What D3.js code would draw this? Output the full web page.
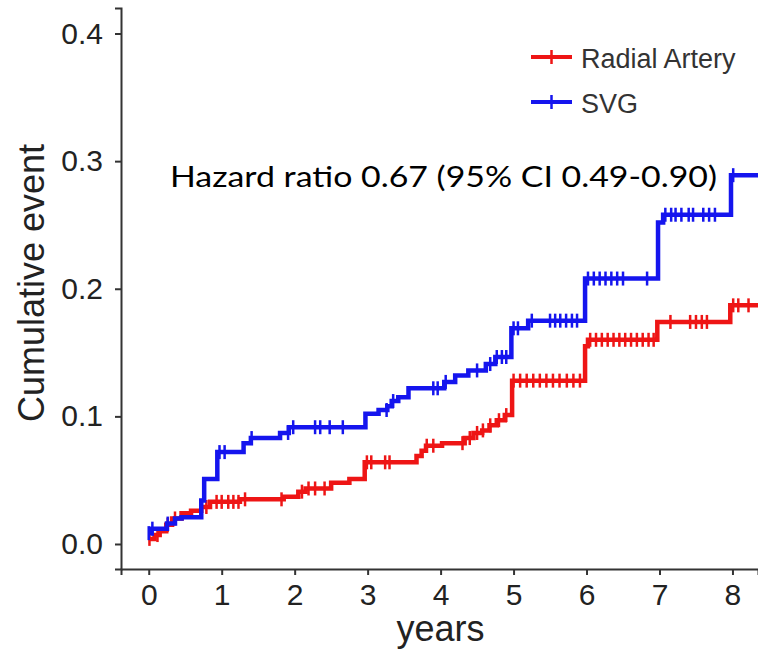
<!DOCTYPE html>
<html>
<head>
<meta charset="utf-8">
<script src="https://cdn.jsdelivr.net/npm/d3@7"></script>
<style>
  body { margin: 0; background: #fff; }
  svg { display: block; }
</style>
</head>
<body>
<div id="chart"></div>
<script>
// cumulative event step curves (time in years, cumulative incidence)
const raTime = [0, 0.08, 0.15, 0.24, 0.32, 0.45, 0.58, 0.72, 0.84, 1.25, 1.85, 2.05, 2.15, 2.5, 2.75, 2.96, 3.67, 3.74, 3.8, 4.02, 4.33, 4.45, 4.57, 4.67, 4.77, 4.88, 4.98, 5.98, 6.02, 6.97, 7.97, 8.4];
const raCum = [0.004, 0.007, 0.01, 0.015, 0.02, 0.024, 0.026, 0.029, 0.033, 0.035, 0.037, 0.041, 0.0435, 0.048, 0.051, 0.064, 0.069, 0.073, 0.077, 0.079, 0.083, 0.087, 0.089, 0.093, 0.097, 0.101, 0.128, 0.155, 0.16, 0.174, 0.187, 0.187];
const svgTime = [0, 0.04, 0.25, 0.36, 0.45, 0.72, 0.76, 0.94, 1.3, 1.4, 1.8, 1.92, 2.97, 3.15, 3.27, 3.33, 3.42, 3.56, 4.05, 4.2, 4.38, 4.62, 4.75, 4.97, 5.2, 5.98, 6.98, 7.05, 7.98, 8.4];
const svgCum = [0.0085, 0.012, 0.016, 0.02, 0.021, 0.034, 0.051, 0.072, 0.079, 0.083, 0.087, 0.0915, 0.102, 0.105, 0.108, 0.112, 0.115, 0.122, 0.127, 0.132, 0.136, 0.141, 0.1465, 0.169, 0.175, 0.208, 0.252, 0.258, 0.289, 0.289];

// censoring times
const raCensor = [0.01, 0.12, 0.26, 0.36, 0.79, 0.93, 1.0, 1.09, 1.16, 1.23, 1.32, 1.82, 2.1, 2.19, 2.28, 2.41, 2.99, 3.05, 3.24, 3.3, 3.81, 3.9, 4.3, 4.4, 4.5, 4.58, 4.68, 4.8, 4.9,
  5.0, 5.09, 5.18, 5.27, 5.36, 5.45, 5.54, 5.63, 5.73, 5.82, 5.91,
  6.05, 6.13, 6.21, 6.29, 6.37, 6.45, 6.53, 6.61, 6.69, 6.77, 6.85, 6.92,
  7.15, 7.42, 7.5, 7.58, 7.65, 8.01, 8.08, 8.22];
const svgCensor = [0.0, 0.05, 0.26, 0.97, 1.04, 1.41, 1.91, 1.98, 2.28, 2.35, 2.48, 2.66, 3.26, 3.35, 3.9, 3.96, 4.07, 4.5, 4.68, 4.77, 4.84, 4.9,
  5.0, 5.06, 5.25, 5.5, 5.57, 5.64, 5.72, 5.8, 5.87,
  6.02, 6.1, 6.18, 6.26, 6.34, 6.42, 6.5, 6.83,
  7.08, 7.16, 7.22, 7.3, 7.4, 7.46, 7.6, 7.68, 7.76, 8.01];

const groups = ['Radial Artery', 'SVG'];
const colors = ['#ee1515', '#1515ee'];
const xTicks = [0, 1, 2, 3, 4, 5, 6, 7, 8];
const yTicks = [0.0, 0.1, 0.2, 0.3, 0.4];
const hrText = 'Hazard ratio 0.67 (95% CI 0.49-0.90)';

const width = 758, height = 665;
const svg = d3.select('#chart').append('svg')
    .attr('width', width)
    .attr('height', height);
svg.append('rect').attr('width', width).attr('height', height).attr('fill', '#fff');

const x = d3.scaleLinear().domain([-0.38, 8.35]).range([121, 758]);
const y = d3.scaleLinear().domain([-0.0196, 0.42]).range([569, 8]);

// axes
const xAxis = svg.append('g')
    .attr('transform', 'translate(0,569)')
    .call(d3.axisBottom(x).tickValues(xTicks).tickSizeOuter(0).tickSize(6).tickPadding(9).tickFormat(d3.format('d')));
const yAxis = svg.append('g')
    .attr('transform', 'translate(121,0)')
    .call(d3.axisLeft(y).tickValues(yTicks).tickSizeOuter(0).tickSize(6).tickPadding(12).tickFormat(d3.format('.1f')));
[xAxis, yAxis].forEach(g => {
    g.select('.domain').attr('stroke', '#333').attr('stroke-width', 2);
    g.selectAll('.tick line').attr('stroke', '#333').attr('stroke-width', 2);
    g.selectAll('.tick text')
        .attr('fill', '#222')
        .style('font-family', '"Liberation Sans", Arial, sans-serif')
        .style('font-size', '30px');
});

svg.append('text')
    .attr('x', x(4))
    .attr('y', 641)
    .attr('text-anchor', 'middle')
    .attr('fill', '#222')
    .style('font-family', '"Liberation Sans", Arial, sans-serif')
    .style('font-size', '36px')
    .text('years');
svg.append('text')
    .attr('transform', `translate(44,${283}) rotate(-90)`)
    .attr('text-anchor', 'middle')
    .attr('fill', '#222')
    .style('font-family', '"Liberation Sans", Arial, sans-serif')
    .style('font-size', '36px')
    .text('Cumulative event');

// curves
const series = [
    { name: groups[0], time: raTime, cum: raCum, censor: raCensor, color: colors[0] },
    { name: groups[1], time: svgTime, cum: svgCum, censor: svgCensor, color: colors[1] }
];
const line = d3.line()
    .x(d => x(d[0]))
    .y(d => y(d[1]))
    .curve(d3.curveStepAfter);

svg.append('clipPath').attr('id', 'clip')
    .append('rect').attr('x', 121).attr('y', 0).attr('width', 640).attr('height', 569);

const plot = svg.append('g').attr('clip-path', 'url(#clip)');
series.forEach(s => {
    const pts = s.time.map((t, i) => [t, s.cum[i]]);
    plot.append('path')
        .datum(pts)
        .attr('d', line)
        .attr('fill', 'none')
        .attr('stroke', s.color)
        .attr('stroke-width', 4.5);
    const valueAt = t => s.cum[Math.max(0, d3.bisectRight(s.time, t) - 1)];
    plot.selectAll(null)
        .data(s.censor)
        .join('line')
        .attr('x1', d => x(d))
        .attr('x2', d => x(d))
        .attr('y1', d => y(valueAt(d)) - 7)
        .attr('y2', d => y(valueAt(d)) + 7)
        .attr('stroke', s.color)
        .attr('stroke-width', 2.5);
});

// legend
const legend = svg.append('g');
series.forEach((s, i) => {
    const ly = 57 + i * 45;
    legend.append('line')
        .attr('x1', 531).attr('x2', 572)
        .attr('y1', ly).attr('y2', ly)
        .attr('stroke', s.color).attr('stroke-width', 4);
    legend.append('line')
        .attr('x1', 551.5).attr('x2', 551.5)
        .attr('y1', ly - 7).attr('y2', ly + 7)
        .attr('stroke', s.color).attr('stroke-width', 2.5);
    legend.append('text')
        .attr('x', 581)
        .attr('y', ly + 11)
        .attr('fill', '#333')
        .style('font-family', '"Liberation Sans", Arial, sans-serif')
        .style('font-size', '27px')
        .text(s.name);
});

// hazard ratio annotation
svg.append('text')
    .attr('x', 170)
    .attr('y', 187)
    .attr('fill', '#000')
    .attr('textLength', 547)
    .attr('lengthAdjust', 'spacingAndGlyphs')
    .style('font-family', 'Lato, "Open Sans", sans-serif')
    .style('font-size', '29px')
    .text(hrText);
</script>
</body>
</html>
